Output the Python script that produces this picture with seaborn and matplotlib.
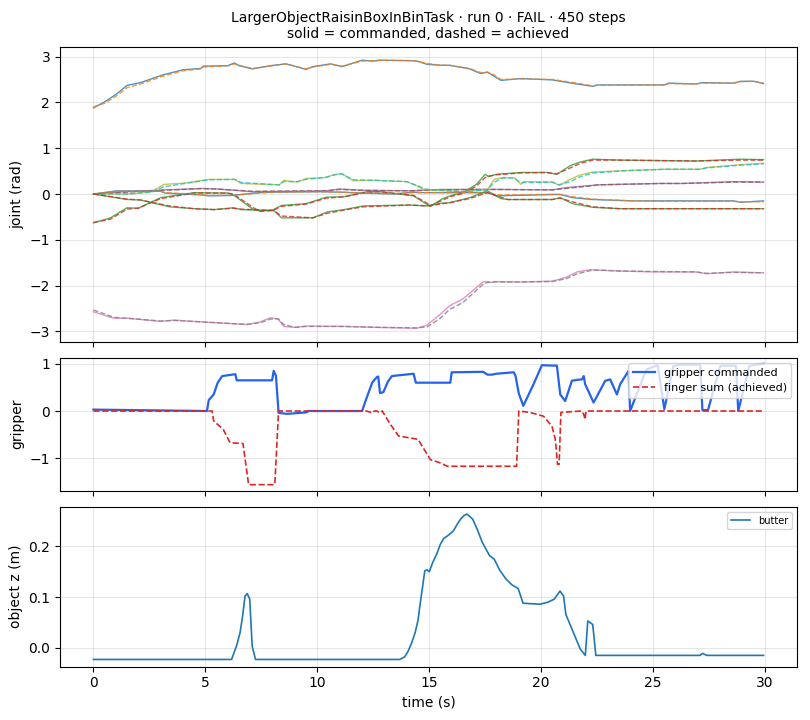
import numpy as np
import pandas as pd
import matplotlib
matplotlib.use("Agg")
import matplotlib.pyplot as plt
import seaborn as sns

# ---------------- data ----------------
title_text = "LargerObjectRaisinBoxInBinTask · run 0 · FAIL · 450 steps\nsolid = commanded, dashed = achieved"

# joint 0
t_j0 = [0, 0.5, 1.0, 1.5, 2.1, 3.1, 4.0, 4.8, 4.9, 6.0, 6.3, 6.5, 7.1, 7.9, 8.6, 9.5, 9.8, 10.6, 11.1, 12.0, 12.5,
        12.8, 14.15, 14.45, 14.9, 15.5, 15.9, 16.8, 17.3, 17.6, 17.9, 18.2, 19.1, 20.5, 21.6, 22.3, 22.5,
        25.5, 25.7, 26.9, 27.2, 28.6, 28.9, 29.5, 29.93]
cmd_j0 = [1.88, 2.01, 2.17, 2.37, 2.43, 2.60, 2.71, 2.74, 2.79, 2.80, 2.86, 2.80, 2.73, 2.80, 2.84, 2.72, 2.78,
          2.84, 2.78, 2.92, 2.90, 2.92, 2.91, 2.90, 2.83, 2.81, 2.81, 2.73, 2.63, 2.66, 2.57, 2.48, 2.52, 2.49,
          2.40, 2.35, 2.38, 2.38, 2.42, 2.40, 2.43, 2.42, 2.46, 2.46, 2.41]
ach_j0 = [1.90, 1.98, 2.13, 2.32, 2.40, 2.57, 2.69, 2.73, 2.77, 2.80, 2.84, 2.81, 2.74, 2.79, 2.84, 2.73, 2.77,
          2.83, 2.79, 2.90, 2.91, 2.92, 2.91, 2.90, 2.85, 2.81, 2.81, 2.74, 2.65, 2.66, 2.60, 2.50, 2.51, 2.50,
          2.42, 2.36, 2.37, 2.38, 2.41, 2.40, 2.42, 2.42, 2.45, 2.46, 2.42]

# joint 1
t_j1 = [0, 0.76, 1.5, 2.0, 3.0, 4.5, 6.0, 6.25, 7.15, 7.45, 8.0, 8.4, 9.5, 10.4, 11.2, 12.2, 12.8, 14.3, 14.9,
        15.05, 15.6, 16.0, 16.5, 16.8, 17.1, 17.5, 17.65, 18.0, 19.1, 20.25, 20.7, 21.3, 21.75, 22.3, 23.5,
        26.9, 28.9, 29.93]
cmd_j1 = [-0.63, -0.52, -0.30, -0.31, -0.08, 0.03, 0.02, -0.02, -0.34, -0.37, -0.35, -0.25, -0.21, -0.07, -0.06,
          0.05, 0.05, -0.04, -0.23, -0.27, -0.10, -0.03, 0.03, 0.12, 0.21, 0.43, 0.38, 0.43, 0.47, 0.47, 0.43,
          0.62, 0.70, 0.76, 0.74, 0.72, 0.76, 0.75]
ach_j1 = [-0.62, -0.55, -0.33, -0.31, -0.10, 0.02, 0.02, 0.0, -0.30, -0.38, -0.36, -0.27, -0.22, -0.09, -0.06,
          0.04, 0.05, -0.03, -0.20, -0.26, -0.13, -0.05, 0.01, 0.09, 0.17, 0.36, 0.39, 0.42, 0.46, 0.47, 0.44,
          0.57, 0.67, 0.74, 0.74, 0.72, 0.74, 0.74]

# joint 2
t_j2 = [0, 1.0, 3.14, 4.85, 5.5, 7.1, 10.4, 11.0, 12.07, 14.15, 15.5, 17.2, 18.0, 20.5, 21.1, 22.3, 22.5,
        25.3, 26.3, 28.6, 29.93]
cmd_j2 = [0.0, 0.04, 0.09, 0.12, 0.11, 0.05, 0.07, 0.11, 0.08, 0.07, 0.10, 0.10, 0.10, 0.09, 0.14, 0.19, 0.20,
          0.23, 0.23, 0.27, 0.26]
ach_j2 = [0.0, 0.03, 0.08, 0.12, 0.11, 0.06, 0.07, 0.10, 0.08, 0.07, 0.09, 0.10, 0.10, 0.09, 0.12, 0.18, 0.20,
          0.23, 0.23, 0.26, 0.26]

# joint 3
t_j3 = [0, 0.9, 1.5, 3.0, 3.6, 4.8, 6.25, 6.9, 7.45, 7.9, 8.25, 8.5, 9.0, 9.5, 11.2, 12.7, 14.45, 14.9, 15.5,
        15.9, 16.5, 17.4, 17.6, 17.8, 17.9, 19.1, 20.5, 21.1, 21.6, 22.2, 22.5, 23.5, 25.0, 26.9, 27.4, 28.6,
        29.93]
cmd_j3 = [-2.57, -2.71, -2.71, -2.78, -2.75, -2.79, -2.83, -2.85, -2.79, -2.70, -2.73, -2.89, -2.91, -2.88,
          -2.89, -2.91, -2.93, -2.86, -2.62, -2.44, -2.29, -1.92, -1.91, -1.93, -1.91, -1.92, -1.90, -1.82,
          -1.70, -1.65, -1.66, -1.68, -1.70, -1.70, -1.74, -1.70, -1.72]
ach_j3 = [-2.53, -2.69, -2.71, -2.77, -2.76, -2.79, -2.83, -2.84, -2.81, -2.73, -2.72, -2.85, -2.91, -2.89,
          -2.89, -2.91, -2.92, -2.90, -2.71, -2.52, -2.37, -1.97, -1.93, -1.93, -1.92, -1.92, -1.91, -1.85,
          -1.74, -1.67, -1.66, -1.68, -1.69, -1.70, -1.73, -1.71, -1.72]

# joint 4
t_j4 = [0, 1.5, 2.6, 3.14, 4.1, 5.15, 6.3, 6.6, 8.3, 8.5, 9.1, 9.5, 10.35, 10.8, 11.1, 11.6, 12.5, 14.0, 14.6,
        14.75, 15.5, 16.5, 17.6, 17.9, 18.3, 18.8, 19.1, 19.2, 20.5, 20.8, 21.3, 21.7, 22.3, 23.8, 25.5, 27.1,
        27.4, 28.9, 29.93]
cmd_j4 = [0.0, 0.0, 0.05, 0.21, 0.24, 0.32, 0.32, 0.23, 0.20, 0.30, 0.26, 0.34, 0.36, 0.43, 0.44, 0.29, 0.30,
          0.27, 0.14, 0.10, 0.08, 0.05, 0.10, 0.32, 0.36, 0.35, 0.21, 0.27, 0.26, 0.19, 0.32, 0.41, 0.48, 0.51,
          0.54, 0.54, 0.58, 0.64, 0.67]
ach_j4 = [0.0, 0.0, 0.04, 0.16, 0.23, 0.31, 0.32, 0.25, 0.20, 0.27, 0.27, 0.32, 0.36, 0.42, 0.44, 0.31, 0.30,
          0.27, 0.16, 0.11, 0.08, 0.05, 0.09, 0.26, 0.35, 0.35, 0.24, 0.25, 0.26, 0.20, 0.27, 0.37, 0.46, 0.51,
          0.54, 0.54, 0.57, 0.63, 0.66]

# joint 5
t_j5 = [0, 1.05, 3.0, 3.2, 4.8, 5.15, 6.2, 7.4, 8.0, 10.05, 11.1, 12.0, 13.4, 14.3, 14.6, 17.6, 18.0, 20.5,
        20.85, 21.4, 22.3, 24.1, 25.3, 28.6, 28.9, 29.93]
cmd_j5 = [0.0, 0.07, 0.06, 0.02, -0.02, -0.04, -0.03, 0.03, 0.04, 0.05, 0.04, 0.02, 0.0, 0.04, 0.03, 0.03,
          -0.04, -0.01, -0.01, -0.08, -0.12, -0.15, -0.15, -0.15, -0.18, -0.15]
ach_j5 = [0.0, 0.06, 0.06, 0.03, -0.01, -0.03, -0.03, 0.02, 0.04, 0.05, 0.04, 0.02, 0.01, 0.03, 0.03, 0.03,
          -0.02, -0.01, -0.01, -0.06, -0.11, -0.15, -0.16, -0.16, -0.17, -0.17]

# joint 6
t_j6 = [0, 1.5, 2.1, 3.4, 4.5, 5.4, 6.25, 6.6, 8.05, 8.4, 9.8, 10.45, 11.2, 12.05, 14.15, 14.9, 15.5, 15.9,
        16.8, 17.6, 18.2, 18.5, 20.5, 20.85, 21.4, 22.3, 23.5, 25.4, 29.93]
cmd_j6 = [0.0, -0.12, -0.13, -0.28, -0.32, -0.34, -0.30, -0.34, -0.36, -0.52, -0.52, -0.39, -0.34, -0.26,
          -0.24, -0.26, -0.20, -0.19, -0.08, 0.07, -0.10, -0.12, -0.12, -0.08, -0.21, -0.29, -0.32, -0.32, -0.32]
ach_j6 = [0.0, -0.11, -0.13, -0.26, -0.32, -0.34, -0.31, -0.33, -0.36, -0.48, -0.52, -0.42, -0.35, -0.28,
          -0.24, -0.26, -0.22, -0.19, -0.10, 0.03, -0.07, -0.12, -0.12, -0.09, -0.17, -0.28, -0.32, -0.32, -0.32]

# gripper
t_grip = [0, 5.07, 5.15, 5.37, 5.55, 5.75, 6.34, 6.4, 7.98, 8.05, 8.15, 8.27, 8.65, 9.5, 9.6, 12.0, 12.15, 12.45,
          12.66, 12.72, 12.8, 12.95, 13.15, 13.33, 14.3, 14.4, 15.94, 16.0, 17.4, 17.6, 17.8, 18.0, 18.77, 18.85,
          19.0, 19.2, 19.66, 20.03, 20.7, 20.85, 21.07, 21.37, 21.6, 21.82, 21.9, 21.96, 22.34, 22.86, 23.08,
          23.38, 23.53, 23.9, 23.97, 24.7, 25.2, 25.5, 25.9, 26.2, 27.1, 27.2, 27.45, 28.0, 28.7, 28.8, 29.3,
          29.93]
grip_cmd = [0.03, 0.0, 0.23, 0.35, 0.60, 0.74, 0.78, 0.65, 0.65, 0.85, 0.75, -0.04, -0.06, -0.03, 0.0, 0.0,
            0.21, 0.60, 0.72, 0.73, 0.38, 0.40, 0.62, 0.74, 0.79, 0.60, 0.60, 0.82, 0.83, 0.77, 0.77, 0.79,
            0.82, 0.75, 0.37, 0.11, 0.57, 0.97, 0.96, 0.35, 0.21, 0.64, 0.66, 0.67, 0.74, 0.57, 0.18, 0.64,
            0.67, 0.35, 0.57, 0.85, 0.0, 0.88, 0.97, 0.04, 0.95, 0.98, 0.98, 0.02, 0.02, 0.96, 0.96, 0.0, 0.96,
            1.0]

t_finger = [0, 5.3, 5.37, 5.8, 6.1, 6.68, 6.93, 8.1, 8.27, 12.2, 12.45, 12.55, 12.66, 12.8, 12.9, 13.26, 13.63,
            14.5, 15.05, 15.5, 15.8, 18.9, 19.0, 19.5, 20.1, 20.48, 20.63, 20.73, 20.8, 20.88, 21.8, 21.9,
            21.96, 22.0, 29.93]
finger_sum = [0.0, 0.0, -0.21, -0.39, -0.67, -0.69, -1.56, -1.56, 0.0, 0.0, -0.04, 0.0, 0.0, -0.04, 0.0,
              -0.28, -0.53, -0.60, -1.03, -1.10, -1.17, -1.17, 0.0, -0.03, -0.11, -0.32, -0.60, -1.13, -1.13,
              -0.03, 0.0, -0.07, -0.18, 0.0, 0.0]

# object height
t_obj = [0, 6.17, 6.4, 6.55, 6.67, 6.77, 6.87, 6.98, 7.09, 7.24, 13.68, 13.9, 14.05, 14.2, 14.37, 14.5, 14.58,
         14.7, 14.8, 14.9, 15.0, 15.15, 15.33, 15.5, 15.65, 15.85, 16.08, 16.25, 16.4, 16.55, 16.68, 16.94,
         17.15, 17.37, 17.69, 17.9, 18.15, 18.44, 18.7, 18.97, 19.19, 19.94, 20.3, 20.58, 20.84, 21.0, 21.1,
         21.4, 21.75, 21.97, 22.08, 22.3, 22.44, 27.1, 27.2, 27.4, 29.93]
obj_z = [-0.023, -0.023, 0.005, 0.030, 0.065, 0.102, 0.107, 0.096, 0.003, -0.023, -0.023, -0.018, -0.007,
         0.008, 0.030, 0.055, 0.083, 0.120, 0.152, 0.154, 0.150, 0.168, 0.185, 0.205, 0.216, 0.222, 0.231,
         0.244, 0.254, 0.261, 0.264, 0.254, 0.233, 0.208, 0.182, 0.175, 0.153, 0.135, 0.124, 0.117, 0.088,
         0.086, 0.090, 0.096, 0.112, 0.102, 0.066, 0.034, -0.003, -0.015, 0.053, 0.046, -0.015, -0.015,
         -0.011, -0.015, -0.015]

joints = [(t_j0, cmd_j0, ach_j0), (t_j1, cmd_j1, ach_j1), (t_j2, cmd_j2, ach_j2), (t_j3, cmd_j3, ach_j3),
          (t_j4, cmd_j4, ach_j4), (t_j5, cmd_j5, ach_j5), (t_j6, cmd_j6, ach_j6)]

# ---------------- plot ----------------
fig = plt.figure(figsize=(8.1, 7.2), dpi=100)
gs = fig.add_gridspec(3, 1, height_ratios=[295, 133, 160], left=0.074, right=0.984,
                      top=0.935, bottom=0.074, hspace=0.082)
ax1 = fig.add_subplot(gs[0])
ax2 = fig.add_subplot(gs[1], sharex=ax1)
ax3 = fig.add_subplot(gs[2], sharex=ax1)

tab = sns.color_palette("tab10", 10)
ci = 0
for (tt, c, a) in joints:
    sns.lineplot(x=tt, y=c, ax=ax1, color=tab[ci % 10], lw=1.0, alpha=0.8)
    sns.lineplot(x=tt, y=a, ax=ax1, color=tab[(ci + 1) % 10], lw=1.0, alpha=0.8, linestyle="--")
    ci += 2
ax1.set_ylabel("joint (rad)")
ax1.set_title(title_text, fontsize=10)

sns.lineplot(x=t_grip, y=grip_cmd, ax=ax2, color="#2563eb", lw=1.6, label="gripper commanded")
sns.lineplot(x=t_finger, y=finger_sum, ax=ax2, color="#dc2626", lw=1.2, linestyle="--",
             label="finger sum (achieved)")
ax2.set_ylabel("gripper")
ax2.legend(loc="upper right", fontsize=8)

sns.lineplot(x=t_obj, y=obj_z, ax=ax3, color=tab[0], lw=1.2, label="butter")
ax3.set_ylabel("object z (m)")
ax3.set_xlabel("time (s)")
ax3.legend(loc="upper right", fontsize=7)

for ax in (ax1, ax2, ax3):
    ax.grid(True, alpha=0.3)
for ax in (ax1, ax2):
    ax.tick_params(labelbottom=False)
    ax.set_xlabel("")

fig.savefig("out.png", dpi=100)
